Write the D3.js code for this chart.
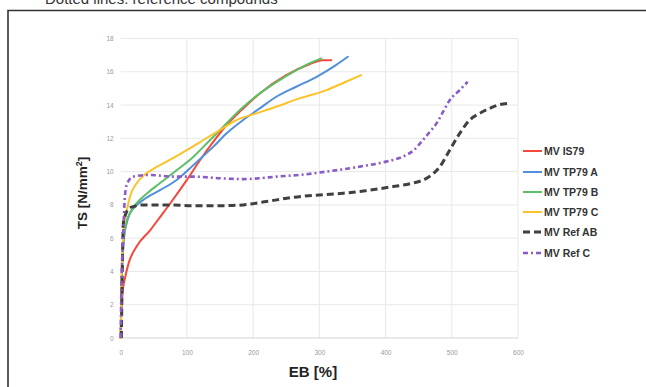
<!DOCTYPE html>
<html><head><meta charset="utf-8">
<script src="https://cdn.jsdelivr.net/npm/d3@7"></script>
<style>html,body{margin:0;padding:0;background:#fff;}svg{display:block;}</style>
</head><body>
<svg id="c" width="646" height="387"></svg>
<script>
const xTicks = [0,100,200,300,400,500,600];
const yTicks = [0,2,4,6,8,10,12,14,16,18];
const seriesNames = ["MV IS79","MV TP79 A","MV TP79 B","MV TP79 C","MV Ref AB","MV Ref C"];
const is79 = [[0,0],[0.5,1],[1.5,1.9],[3,2.8],[6.5,3.6],[12,4.5],[24,5.5],[45,6.5],[60,7.3],[75,8.1],[100,9.5],[120,10.7],[140,11.8],[160,12.8],[182.5,13.7],[210,14.7],[250,15.8],[285,16.45],[305,16.7],[318,16.7]];
const tp79a = [[0,0],[1,2.5],[2.5,4.5],[5,6],[9,6.9],[14,7.5],[22,7.9],[34,8.3],[60,8.9],[84.5,9.5],[110,10.4],[140,11.5],[160,12.3],[185,13.1],[210,13.8],[235,14.5],[265,15.1],[296,15.7],[325,16.4],[343,16.9]];
const tp79b = [[0,0],[1,2.6],[2.5,4.7],[5,6.2],[8,6.9],[11.5,7.3],[17,7.7],[24,8.1],[40,8.7],[59,9.3],[85,10.1],[110,10.9],[135,11.9],[155,12.7],[180,13.7],[210,14.7],[240,15.5],[265.5,16.1],[290,16.6],[303,16.8]];
const tp79c = [[0,0],[1,3],[2.5,5.2],[5,6.7],[9,7.6],[14,8.5],[24,9.3],[39,9.9],[55,10.3],[74,10.7],[100,11.3],[125,11.9],[150,12.5],[175,13.1],[205,13.5],[235,13.9],[270,14.4],[311,14.9],[340,15.4],[363,15.8]];
const refAB = [[1,0],[2,3],[3,5.5],[4,6.9],[8,7.5],[13,7.8],[19,7.9],[34,8],[70,8],[110,7.95],[150,7.95],[185,8],[220,8.2],[260,8.45],[300,8.6],[336,8.7],[370,8.85],[411,9.1],[440,9.3],[462,9.6],[482,10.3],[497,11.3],[512,12.3],[527,13.1],[542,13.5],[557,13.8],[570,14],[585,14.1]];
const refC = [[0,0],[1,3],[2.5,5],[4,6.5],[6.5,8.6],[10,9.3],[19,9.7],[44,9.8],[80,9.7],[110,9.7],[150,9.6],[185,9.55],[210,9.6],[235,9.7],[270,9.8],[311,10],[361,10.3],[401,10.6],[426,10.9],[443,11.3],[456.5,11.9],[467,12.4],[477,12.9],[487,13.6],[497,14.3],[512,14.9],[524,15.4]];

const svg = d3.select("#c");
const x = d3.scaleLinear().domain([0,600]).range([120.7,518]);
const y = d3.scaleLinear().domain([0,18]).range([338,38.5]);

// header (cut-off) text and frame
svg.append("text").attr("x",45).attr("y",4).attr("font-family","Liberation Sans, Arial, sans-serif")
  .attr("font-size",15).attr("fill","#333").text("Dotted lines: reference compounds");
svg.append("path").attr("d","M8,390 L8,10.5 L646,10.5").attr("fill","none").attr("stroke","#333").attr("stroke-width",1.6);

// grid
const g = svg.append("g");
g.selectAll("line.h").data(yTicks.filter(d=>d>0)).join("line")
  .attr("x1",x(0)).attr("x2",x(600)).attr("y1",d=>y(d)).attr("y2",d=>y(d))
  .attr("stroke","#e8e8e8").attr("stroke-width",1);
g.selectAll("line.v").data(xTicks.filter(d=>d>0)).join("line")
  .attr("y1",y(0)).attr("y2",y(18)).attr("x1",d=>x(d)).attr("x2",d=>x(d))
  .attr("stroke","#e8e8e8").attr("stroke-width",1);
g.append("line").attr("x1",x(0)).attr("x2",x(600)).attr("y1",y(0)).attr("y2",y(0)).attr("stroke","#d4d4d4").attr("stroke-width",1.2);

// axes labels via d3 axes
const xAxis = svg.append("g").attr("transform",`translate(0,${y(0)+8})`)
  .call(d3.axisBottom(x).tickValues(xTicks).tickSize(0).tickPadding(4));
const yAxis = svg.append("g").attr("transform",`translate(${x(0)-3},0)`)
  .call(d3.axisLeft(y).tickValues(yTicks).tickSize(0).tickPadding(4));
[xAxis,yAxis].forEach(a=>{
  a.select(".domain").remove();
  a.selectAll("text").attr("font-family","Liberation Sans, Arial, sans-serif").attr("font-size",6.5).attr("fill","#9a9a9a");
});

// titles
svg.append("text").attr("x",313).attr("y",377).attr("text-anchor","middle")
  .attr("font-family","Liberation Sans, Arial, sans-serif").attr("font-weight","bold").attr("font-size",15).attr("fill","#222").text("EB [%]");
const yt = svg.append("text").attr("transform","translate(87,193) rotate(-90)").attr("text-anchor","middle")
  .attr("font-family","Liberation Sans, Arial, sans-serif").attr("font-weight","bold").attr("font-size",13.5).attr("fill","#222");
yt.append("tspan").text("TS [N/mm");
yt.append("tspan").attr("font-size",9).attr("dy",-5).text("2");
yt.append("tspan").attr("dy",5).text("]");

const styles = [
  {data:is79, color:"#f4483b", w:2, dash:null},
  {data:tp79a, color:"#4f8fdc", w:2, dash:null},
  {data:tp79b, color:"#5cbf66", w:2, dash:null},
  {data:tp79c, color:"#fdc22a", w:2, dash:null},
  {data:refAB, color:"#404040", w:3, dash:"7,4"},
  {data:refC, color:"#8a5cc8", w:2.6, dash:"5,3,2,3"}
];
const line = d3.line().x(d=>x(d[0])).y(d=>y(d[1])).curve(d3.curveMonotoneX);
styles.forEach(s=>{
  svg.append("path").attr("d",line(s.data)).attr("fill","none").attr("stroke",s.color)
    .attr("stroke-width",s.w).attr("stroke-dasharray",s.dash).attr("stroke-linecap",s.dash?"butt":"round");
});

// legend
const ly = [151,172,192,212,232,253];
const leg = svg.append("g");
seriesNames.forEach((n,i)=>{
  const s = styles[i];
  leg.append("line").attr("x1",523).attr("x2",542).attr("y1",ly[i]).attr("y2",ly[i])
    .attr("stroke",s.color).attr("stroke-width",s.w).attr("stroke-dasharray",s.dash);
  leg.append("text").attr("x",544).attr("y",ly[i]+3.8).attr("font-family","Liberation Sans, Arial, sans-serif")
    .attr("font-weight","bold").attr("font-size",10.5).attr("fill","#333").text(n);
});
</script>
</body></html>
